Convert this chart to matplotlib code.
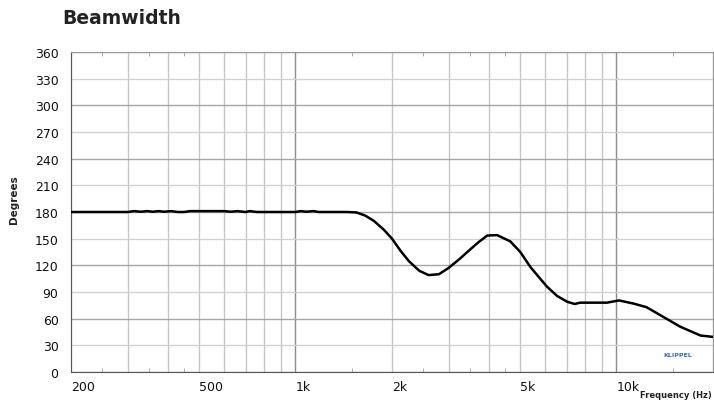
import matplotlib
matplotlib.use("Agg")
import matplotlib.pyplot as plt
from matplotlib.ticker import FixedLocator, NullFormatter

# beamwidth curve (frequency in Hz, degrees)
freq = [200, 280, 300, 315, 330, 345, 360, 375, 390, 410, 430, 450, 470,
        500, 550, 600, 630, 660, 700, 720, 760, 800, 900, 1000, 1040, 1080,
        1140, 1180, 1300, 1450, 1550, 1650, 1756, 1887, 2000, 2130, 2260,
        2430, 2600, 2800, 3000, 3230, 3470, 3720, 3960, 4250, 4670, 5020,
        5400, 5790, 6080, 6540, 7030, 7420, 7710, 8500, 9340, 10200, 11300,
        12400, 14000, 15800, 18300, 20000]
degrees = [180, 180, 180, 181, 180.3, 181, 180.3, 181, 180.3, 181, 180, 180,
           181, 181, 181, 181, 180.3, 181, 180, 181, 180, 180, 180, 180, 181,
           180.3, 181, 180, 180, 180, 179.5, 176, 170, 160, 150, 136, 124.5,
           114, 109, 110, 117, 126.4, 136.5, 146, 153.5, 154, 147, 135,
           118, 105, 96, 85.5, 79, 76.5, 78, 78, 78, 80.5, 77,
           73, 62, 51, 41, 39.5]

grid_freqs = [200, 300, 400, 500, 600, 700, 800, 900, 1000, 2000, 3000, 4000,
              5000, 6000, 7000, 8000, 9000, 10000, 20000]
label_freqs = {200: "200", 500: "500", 1000: "1k", 2000: "2k", 5000: "5k",
               10000: "10k"}
small_ticks = [250, 350, 450, 1500, 2500, 3500, 4500, 15000]
y_ticks = list(range(0, 361, 30))

fig = plt.figure(figsize=(7.14, 4.02), dpi=100)
ax = fig.add_axes([71 / 714, 1 - 373 / 402, 642 / 714, 320 / 402])

ax.set_xscale("log")
ax.set_xlim(200, 20000)
ax.set_ylim(0, 360)

# grid
for f in grid_freqs:
    dark = f in (1000, 10000)
    ax.axvline(f, color="#8c8c8c" if dark else "#c6c6c6", lw=1.0, zorder=1)
for y in y_ticks:
    ax.axhline(y, color="#a6a6a6" if y % 60 == 0 else "#d2d2d2", lw=1.0,
               zorder=1)

ax.plot(freq, degrees, color="black", lw=1.8, zorder=3)

ax.xaxis.set_major_locator(FixedLocator(list(label_freqs.keys())))
ax.set_xticklabels(list(label_freqs.values()), ha="left")
ax.xaxis.set_minor_locator(FixedLocator(small_ticks))
ax.xaxis.set_minor_formatter(NullFormatter())
ax.tick_params(axis="x", which="major", length=0, pad=6, labelsize=9,
               labelcolor="#111111")
ax.tick_params(axis="x", which="minor", length=3, direction="in",
               color="#999999", top=True, bottom=True)

ax.set_yticks(y_ticks)
ax.tick_params(axis="y", length=0, pad=9, labelsize=9, labelcolor="#111111")

for side in ["left", "bottom"]:
    ax.spines[side].set_color("#555555")
for side in ["top", "right"]:
    ax.spines[side].set_color("#999999")

fig.text(62 / 714, 1 - 18 / 402, "Beamwidth", fontsize=13.5, fontweight="bold",
         color="#222222", va="center", ha="left")
fig.text(14 / 714, 1 - 200 / 402, "Degrees", fontsize=7.5, fontweight="bold",
         rotation=90, va="center", ha="center", color="#222222")
fig.text(712 / 714, 1 - 396 / 402, "Frequency (Hz)", fontsize=6,
         fontweight="bold", ha="right", va="center", color="#222222")
fig.text(678 / 714, 1 - 356 / 402, "KLIPPEL", fontsize=4.5, fontweight="bold",
         ha="center", va="center", color="#3a6aa8")

fig.savefig("out.png", dpi=100)
